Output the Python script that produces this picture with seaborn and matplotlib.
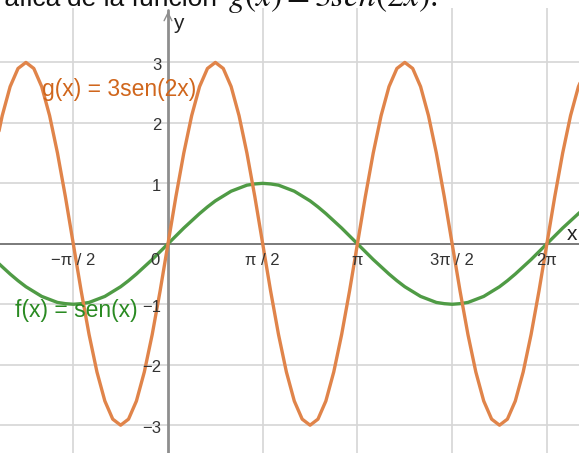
import numpy as np
import matplotlib
matplotlib.use("Agg")
import matplotlib.pyplot as plt
import seaborn as sns
import pandas as pd

# x sample positions, in units of pi/24
X_STEPS = [-22, -21, -20, -19, -18, -17, -16, -15, -14, -13, -12, -11,
           -10, -9, -8, -7, -6, -5, -4, -3, -2, -1,
           0, 1, 2, 3, 4, 5, 6, 7, 8, 9, 10, 11, 12, 13, 14, 15, 16, 17,
           18, 19, 20, 21, 22, 23, 24, 25, 26, 27, 28, 29, 30, 31, 32, 33,
           34, 35, 36, 37, 38, 39, 40, 41, 42, 43, 44, 45, 46, 47, 48,
           49, 50, 51, 52, 53]

# f(x) = sen(x)
F_VALUES = [-0.26, -0.38, -0.50, -0.61, -0.71, -0.79, -0.87, -0.92, -0.97, -0.99,
            -1.00, -0.99, -0.97, -0.92, -0.87, -0.79, -0.71, -0.61, -0.50, -0.38,
            -0.26, -0.13,
            0.00, 0.13, 0.26, 0.38, 0.50, 0.61, 0.71, 0.79, 0.87, 0.92, 0.97, 0.99,
            1.00, 0.99, 0.97, 0.92, 0.87, 0.79, 0.71, 0.61, 0.50, 0.38, 0.26, 0.13,
            0.00, -0.13, -0.26, -0.38, -0.50, -0.61, -0.71, -0.79, -0.87, -0.92,
            -0.97, -0.99, -1.00, -0.99, -0.97, -0.92, -0.87, -0.79, -0.71, -0.61,
            -0.50, -0.38, -0.26, -0.13, 0.00,
            0.13, 0.26, 0.38, 0.50, 0.61]

# g(x) = 3sen(2x)
G_VALUES = [1.50, 2.12, 2.60, 2.90, 3.00, 2.90, 2.60, 2.12, 1.50, 0.78,
            0.00, -0.78, -1.50, -2.12, -2.60, -2.90, -3.00, -2.90, -2.60, -2.12,
            -1.50, -0.78,
            0.00, 0.78, 1.50, 2.12, 2.60, 2.90, 3.00, 2.90, 2.60, 2.12, 1.50, 0.78,
            0.00, -0.78, -1.50, -2.12, -2.60, -2.90, -3.00, -2.90, -2.60, -2.12,
            -1.50, -0.78,
            0.00, 0.78, 1.50, 2.12, 2.60, 2.90, 3.00, 2.90, 2.60, 2.12, 1.50, 0.78,
            0.00, -0.78, -1.50, -2.12, -2.60, -2.90, -3.00, -2.90, -2.60, -2.12,
            -1.50, -0.78,
            0.00, 0.78, 1.50, 2.12, 2.60, 2.90]

XTICKS_PI    = [-0.5, 0.5, 1.0, 1.5, 2.0]
XTICK_LABELS = ["\u2212\u03c0 / 2", "\u03c0 / 2", "\u03c0", "3\u03c0 / 2", "2\u03c0"]
YTICKS       = [-3, -2, -1, 1, 2, 3]
YTICK_LABELS = ["\u22123", "\u22122", "\u22121", "1", "2", "3"]

F_LABEL = "f(x) = sen(x)"
G_LABEL = "g(x) = 3sen(2x)"

C_F_LINE = "#4f9b45"
C_F_TEXT = "#2a8a22"
C_G_LINE = "#e0844a"
C_G_TEXT = "#d0661c"
GRID_C   = "#d6d6d6"

x = np.array(X_STEPS) * np.pi / 24
df = pd.DataFrame({"x": x, "f": F_VALUES, "g": G_VALUES})

sns.set_style("white")
plt.rcParams["font.family"] = ["Liberation Sans", "DejaVu Sans"]
plt.rcParams["mathtext.fontset"] = "stix"

W, H = 579, 453
fig = plt.figure(figsize=(W / 100, H / 100), dpi=100)
ax = fig.add_axes([0, 0, 1, 445 / H])

# pixel scale: 60.3 px per x unit, 60.4 px per y unit
ax.set_xlim(-2.786, 6.816)
ax.set_ylim(-3.46, 3.90)

for xt in XTICKS_PI:
    ax.axvline(xt * np.pi, color=GRID_C, lw=1.2, zorder=0)
for yt in YTICKS:
    ax.axhline(yt, color=GRID_C, lw=1.2, zorder=0)

ax.axhline(0, color="#707070", lw=1.3, zorder=1)
ax.plot([0, 0], [-3.5, 3.86], color="#8e8e8e", lw=2, zorder=1)
ax.annotate("", xy=(0, 3.89), xytext=(0, 3.70),
            arrowprops=dict(arrowstyle="->", color="#8e8e8e", lw=1.0,
                            mutation_scale=14), zorder=1)

sns.lineplot(data=df, x="x", y="f", ax=ax, color=C_F_LINE, linewidth=2.4,
             sort=False, zorder=3)
sns.lineplot(data=df, x="x", y="g", ax=ax, color=C_G_LINE, linewidth=2.4,
             sort=False, zorder=4)

# tick labels in the GeoGebra style (next to the axes)
for xt, lab in zip(XTICKS_PI, XTICK_LABELS):
    ax.text(xt * np.pi, -0.28, lab, ha="center", va="center",
            fontsize=12, color="#333333", zorder=5)
ax.text(-0.21, -0.28, "0", ha="center", va="center", fontsize=12,
        color="#333333", zorder=5)
for yt, lab in zip(YTICKS, YTICK_LABELS):
    ax.text(-0.11, yt - 0.05, lab, ha="right", va="center",
            fontsize=12, color="#333333", zorder=5)

ax.text(6.70, 0.15, "x", ha="center", va="center", fontsize=15, color="#222222")
ax.text(0.17, 3.64, "y", ha="center", va="center", fontsize=15, color="#222222")

ax.text(-2.09, 2.56, G_LABEL, ha="left", va="center", fontsize=16.5,
        color=C_G_TEXT, zorder=6)
ax.text(-2.54, -1.11, F_LABEL, ha="left", va="center", fontsize=16.5,
        color=C_F_TEXT, zorder=6)

ax.set_xlabel("")
ax.set_ylabel("")
ax.set_xticks([])
ax.set_yticks([])
for s in ax.spines.values():
    s.set_visible(False)

# heading of the page, cut off by the top and left edges
base = 1 - 6 / H
fig.text(61 / W, base, "Gr\u00e1fica", ha="right", va="baseline",
         fontsize=19, color="#111111")
fig.text(67 / W, base, "de la funci\u00f3n", ha="left", va="baseline",
         fontsize=19, color="#111111")
fig.text(228 / W, base, r"$g(x) = 3sen(2x).$", ha="left", va="baseline",
         fontsize=24, color="#111111")

fig.savefig("out.png", dpi=100)
